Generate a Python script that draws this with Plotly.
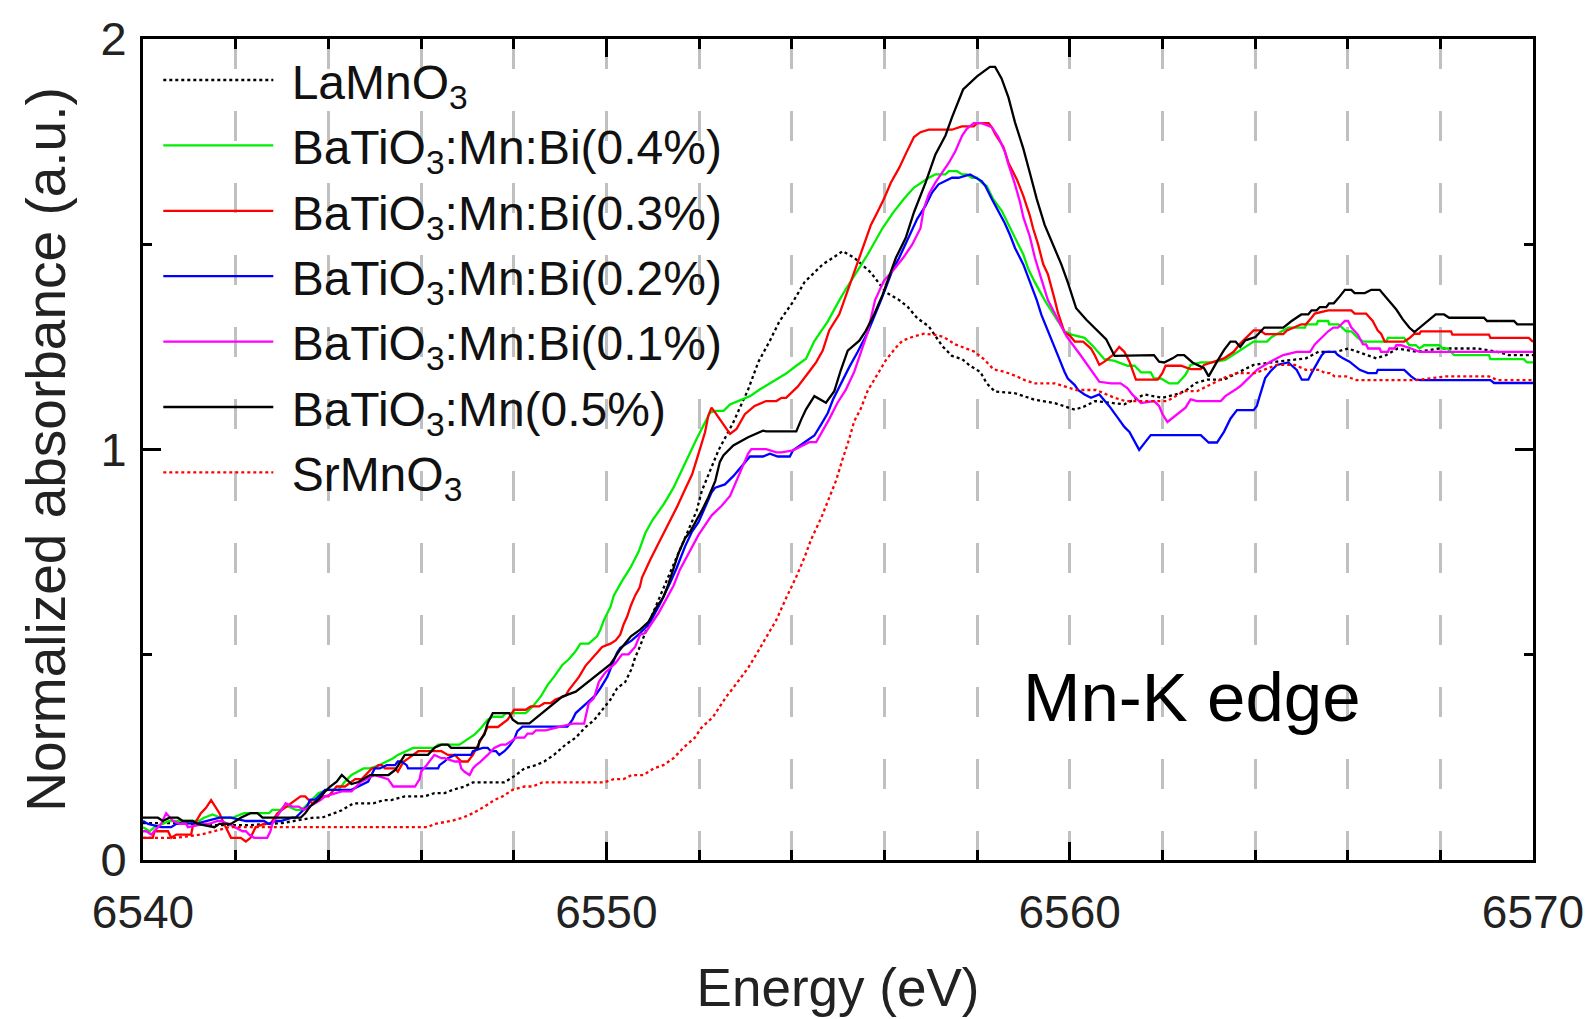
import plotly.graph_objects as go

# ---------------- data ----------------
la_x = [6540.0, 6540.7, 6541.5, 6542.3, 6543.0, 6543.25, 6543.68, 6543.86, 6544.11, 6544.29,
        6544.54, 6544.97, 6545.2, 6545.36, 6545.65, 6546.08, 6546.29, 6546.51, 6546.69, 6546.94,
        6547.12, 6547.8, 6548.05, 6548.23, 6548.48, 6548.66, 6548.87, 6549.12, 6549.34, 6549.55,
        6549.73, 6549.95, 6550.09, 6550.23, 6550.41, 6550.55, 6550.62, 6550.7, 6551.0, 6551.3,
        6551.6, 6551.95, 6552.06, 6552.35, 6552.42, 6552.74, 6553.06, 6553.28, 6553.53, 6553.74,
        6554.03, 6554.28, 6554.5, 6554.67, 6554.89, 6555.1, 6555.35, 6555.71, 6556.03, 6556.32,
        6556.5, 6556.71, 6556.96, 6557.25, 6557.46, 6557.68, 6557.85, 6558.07, 6558.21, 6558.39,
        6558.82, 6559.25, 6559.68, 6559.89, 6560.11, 6560.32, 6560.55, 6561.18, 6561.61, 6562.0,
        6562.29, 6562.5, 6562.72, 6562.97, 6563.33, 6563.75, 6563.97, 6564.47, 6565.1, 6565.37,
        6565.76, 6566.01, 6566.22, 6566.4, 6566.62, 6566.83, 6567.08, 6567.51, 6567.98, 6568.8,
        6569.23, 6569.48, 6570.0]
la_y = [0.09, 0.09, 0.085, 0.085, 0.09, 0.095, 0.103, 0.103, 0.114, 0.121,
        0.138, 0.138, 0.146, 0.146, 0.155, 0.155, 0.163, 0.163, 0.171, 0.179,
        0.189, 0.189, 0.207, 0.223, 0.231, 0.24, 0.256, 0.281, 0.298, 0.324,
        0.34, 0.37, 0.391, 0.418, 0.434, 0.467, 0.493, 0.513, 0.6, 0.68,
        0.76, 0.851, 0.899, 0.976, 0.998, 1.066, 1.146, 1.213, 1.265, 1.313,
        1.36, 1.408, 1.431, 1.451, 1.467, 1.483, 1.467, 1.431, 1.383, 1.364,
        1.348, 1.32, 1.3, 1.252, 1.228, 1.22, 1.204, 1.189, 1.161, 1.141,
        1.137, 1.121, 1.113, 1.105, 1.097, 1.105, 1.118, 1.11, 1.134, 1.126,
        1.134, 1.143, 1.162, 1.17, 1.17, 1.194, 1.206, 1.214, 1.222, 1.238,
        1.238, 1.246, 1.238, 1.23, 1.222, 1.23, 1.246, 1.238, 1.246, 1.246,
        1.238, 1.23, 1.23]

bi04_x = [6540.0, 6540.14, 6540.25, 6540.57, 6540.75, 6541.2, 6541.32, 6541.5, 6541.68, 6541.93,
          6542.18, 6542.72, 6542.79, 6542.97, 6543.04, 6543.15, 6543.3, 6543.4, 6543.5, 6543.65,
          6543.79, 6544.0, 6544.22, 6544.36, 6544.5, 6544.76, 6544.9, 6545.08, 6545.26, 6545.4,
          6545.5, 6545.69, 6545.83, 6546.29, 6546.37, 6546.83, 6546.94, 6547.05, 6547.16, 6547.3,
          6547.44, 6547.55, 6547.76, 6547.83, 6548.26, 6548.41, 6548.59, 6548.73, 6548.87, 6549.05,
          6549.19, 6549.34, 6549.44, 6549.62, 6549.8, 6549.87, 6549.95, 6550.09, 6550.16, 6550.34,
          6550.52, 6550.7, 6550.84, 6550.99, 6551.24, 6551.45, 6551.63, 6551.77, 6551.95, 6552.13,
          6552.24, 6552.35, 6552.53, 6552.67, 6552.85, 6553.1, 6553.31, 6553.67, 6553.88, 6554.1,
          6554.31, 6554.49, 6554.78, 6555.03, 6555.17, 6555.42, 6555.64, 6555.96, 6556.17, 6556.42,
          6556.64, 6556.96, 6557.1, 6557.32, 6557.39, 6557.57, 6557.68, 6557.78, 6557.89, 6558.0,
          6558.1, 6558.21, 6558.35, 6558.53, 6558.68, 6558.82, 6559.0, 6559.11, 6559.25, 6559.46,
          6559.61, 6559.75, 6559.89, 6560.04, 6560.32, 6560.5, 6560.75, 6560.97, 6561.25, 6561.4,
          6561.54, 6561.75, 6561.82, 6561.97, 6562.15, 6562.33, 6562.5, 6562.61, 6562.83, 6563.08,
          6563.36, 6563.47, 6563.58, 6563.86, 6563.97, 6564.26, 6564.36, 6564.61, 6564.72, 6565.08,
          6565.1, 6565.33, 6565.36, 6565.58, 6565.6, 6565.8, 6565.87, 6565.97, 6566.08, 6566.22,
          6566.33, 6566.83, 6566.87, 6567.22, 6567.33, 6567.47, 6567.55, 6567.65, 6567.98, 6568.05,
          6568.15, 6568.3, 6569.05, 6569.08, 6569.8, 6569.87, 6570.0]
bi04_y = [0.08, 0.07, 0.08, 0.095, 0.095, 0.095, 0.103, 0.111, 0.103, 0.103,
          0.114, 0.114, 0.122, 0.122, 0.13, 0.13, 0.122, 0.122, 0.13, 0.147,
          0.163, 0.171, 0.171, 0.191, 0.207, 0.223, 0.223, 0.23, 0.24, 0.248,
          0.256, 0.265, 0.273, 0.273, 0.281, 0.281, 0.289, 0.298, 0.306, 0.322,
          0.342, 0.349, 0.349, 0.358, 0.358, 0.374, 0.399, 0.426, 0.446, 0.475,
          0.489, 0.509, 0.527, 0.527, 0.545, 0.561, 0.585, 0.617, 0.644, 0.68,
          0.712, 0.752, 0.796, 0.827, 0.867, 0.907, 0.95, 0.986, 1.026, 1.066,
          1.09, 1.094, 1.094, 1.11, 1.118, 1.13, 1.146, 1.17, 1.185, 1.204,
          1.221, 1.264, 1.312, 1.364, 1.391, 1.435, 1.475, 1.539, 1.574, 1.61,
          1.638, 1.662, 1.67, 1.67, 1.678, 1.678, 1.67, 1.67, 1.662, 1.662,
          1.65, 1.642, 1.61, 1.582, 1.547, 1.515, 1.475, 1.439, 1.407, 1.364,
          1.336, 1.312, 1.288, 1.28, 1.272, 1.252, 1.22, 1.216, 1.204, 1.204,
          1.188, 1.188, 1.173, 1.173, 1.161, 1.161, 1.182, 1.206, 1.212, 1.212,
          1.218, 1.226, 1.234, 1.254, 1.263, 1.263, 1.274, 1.29, 1.297, 1.297,
          1.305, 1.305, 1.313, 1.313, 1.305, 1.305, 1.297, 1.288, 1.288, 1.272,
          1.263, 1.263, 1.272, 1.272, 1.254, 1.254, 1.246, 1.254, 1.254, 1.246,
          1.246, 1.23, 1.23, 1.22, 1.22, 1.212, 1.212]

bi03_x = [6540.0, 6540.21, 6540.25, 6540.54, 6540.61, 6540.72, 6541.04, 6541.07, 6541.25, 6541.36,
          6541.47, 6541.57, 6541.65, 6541.75, 6541.9, 6542.11, 6542.22, 6542.32, 6542.43, 6542.61,
          6542.75, 6542.9, 6543.2, 6543.4, 6543.5, 6543.65, 6543.9, 6544.0, 6544.18, 6544.36,
          6544.58, 6544.72, 6544.94, 6545.0, 6545.08, 6545.15, 6545.22, 6545.44, 6545.5, 6545.62,
          6545.72, 6545.94, 6546.22, 6546.44, 6546.58, 6546.73, 6546.87, 6547.01, 6547.12, 6547.28,
          6547.44, 6547.66, 6547.87, 6548.01, 6548.26, 6548.37, 6548.55, 6548.66, 6548.8, 6548.9,
          6549.12, 6549.19, 6549.41, 6549.55, 6549.73, 6549.91, 6550.09, 6550.2, 6550.3, 6550.37,
          6550.45, 6550.53, 6550.62, 6550.72, 6550.77, 6550.85, 6550.95, 6551.13, 6551.31, 6551.52,
          6551.7, 6551.85, 6551.99, 6552.13, 6552.2, 6552.27, 6552.35, 6552.53, 6552.67, 6552.81,
          6552.99, 6553.2, 6553.45, 6553.67, 6553.78, 6553.88, 6554.13, 6554.38, 6554.53, 6554.67,
          6554.81, 6555.03, 6555.28, 6555.42, 6555.57, 6555.71, 6555.85, 6555.99, 6556.14, 6556.32,
          6556.47, 6556.64, 6556.78, 6556.96, 6557.46, 6557.67, 6557.93, 6558.0, 6558.25, 6558.32,
          6558.39, 6558.57, 6558.68, 6558.86, 6559.0, 6559.14, 6559.21, 6559.32, 6559.43, 6559.53,
          6559.68, 6559.75, 6559.89, 6560.0, 6560.11, 6560.29, 6560.46, 6560.54, 6560.64, 6560.75,
          6560.93, 6561.07, 6561.18, 6561.29, 6561.43, 6561.9, 6562.0, 6562.07, 6562.4, 6562.61,
          6562.83, 6562.9, 6563.33, 6563.54, 6563.68, 6563.79, 6563.97, 6564.11, 6564.22, 6564.61,
          6564.69, 6565.0, 6565.1, 6565.22, 6565.29, 6565.58, 6566.08, 6566.15, 6566.4, 6566.54,
          6566.65, 6566.72, 6566.8, 6567.22, 6567.33, 6567.44, 6567.55, 6567.58, 6568.23, 6568.26,
          6569.05, 6569.08, 6569.91, 6570.0]
bi03_y = [0.054, 0.054, 0.07, 0.07, 0.054, 0.062, 0.062, 0.08, 0.114, 0.127,
          0.146, 0.127, 0.114, 0.088, 0.054, 0.054, 0.045, 0.054, 0.08, 0.088,
          0.088, 0.114, 0.139, 0.155, 0.155, 0.138, 0.155, 0.155, 0.179, 0.179,
          0.197, 0.197, 0.223, 0.223, 0.231, 0.231, 0.223, 0.223, 0.215, 0.239,
          0.247, 0.265, 0.265, 0.265, 0.256, 0.256, 0.24, 0.24, 0.256, 0.289,
          0.324, 0.324, 0.342, 0.366, 0.366, 0.374, 0.374, 0.382, 0.382, 0.391,
          0.4, 0.414, 0.446, 0.473, 0.497, 0.519, 0.527, 0.535, 0.549, 0.573,
          0.593, 0.62, 0.644, 0.664, 0.688, 0.708, 0.732, 0.772, 0.812, 0.859,
          0.903, 0.939, 0.99, 1.042, 1.082, 1.102, 1.09, 1.062, 1.038, 1.05,
          1.086, 1.106, 1.118, 1.118, 1.126, 1.126, 1.153, 1.19, 1.213, 1.241,
          1.29, 1.33, 1.41, 1.459, 1.503, 1.547, 1.578, 1.61, 1.65, 1.686,
          1.722, 1.761, 1.773, 1.779, 1.779, 1.787, 1.787, 1.795, 1.795, 1.785,
          1.769, 1.737, 1.698, 1.658, 1.618, 1.57, 1.539, 1.499, 1.451, 1.427,
          1.364, 1.332, 1.285, 1.278, 1.263, 1.263, 1.246, 1.23, 1.206, 1.214,
          1.23, 1.25, 1.238, 1.214, 1.17, 1.17, 1.186, 1.204, 1.204, 1.196,
          1.196, 1.206, 1.222, 1.238, 1.258, 1.27, 1.29, 1.29, 1.281, 1.281,
          1.29, 1.305, 1.305, 1.321, 1.331, 1.339, 1.339, 1.331, 1.331, 1.313,
          1.29, 1.282, 1.263, 1.263, 1.271, 1.282, 1.282, 1.288, 1.288, 1.28,
          1.28, 1.272, 1.272, 1.262]

bi02_x = [6540.0, 6540.11, 6540.39, 6540.61, 6540.72, 6541.2, 6541.65, 6541.9, 6542.22, 6542.61,
          6542.72, 6542.86, 6542.97, 6543.22, 6543.29, 6543.47, 6543.54, 6543.61, 6543.72, 6543.93,
          6544.0, 6544.36, 6544.5, 6544.86, 6545.0, 6545.11, 6545.26, 6545.44, 6545.5, 6545.58,
          6545.69, 6545.72, 6546.37, 6546.4, 6546.51, 6546.58, 6546.73, 6547.08, 6547.12, 6547.33,
          6547.44, 6547.51, 6547.62, 6547.69, 6547.8, 6547.91, 6548.01, 6548.08, 6548.19, 6549.16,
          6549.27, 6549.34, 6549.59, 6549.77, 6549.87, 6550.02, 6550.16, 6550.23, 6550.3, 6550.55,
          6550.73, 6550.84, 6550.95, 6551.09, 6551.16, 6551.38, 6551.52, 6551.7, 6551.85, 6551.99,
          6552.27, 6552.35, 6552.56, 6552.74, 6552.95, 6553.1, 6553.38, 6553.53, 6553.7, 6553.96,
          6554.03, 6554.24, 6554.49, 6554.64, 6554.78, 6554.89, 6555.1, 6555.24, 6555.42, 6555.64,
          6555.94, 6556.17, 6556.32, 6556.5, 6556.64, 6556.71, 6556.89, 6557.03, 6557.17, 6557.46,
          6557.6, 6557.85, 6558.1, 6558.18, 6558.32, 6558.46, 6558.6, 6558.71, 6558.82, 6559.0,
          6559.14, 6559.29, 6559.39, 6559.5, 6559.6, 6559.75, 6559.89, 6559.96, 6560.11, 6560.18,
          6560.32, 6560.46, 6560.64, 6560.86, 6561.04, 6561.18, 6561.29, 6561.43, 6561.5, 6561.61,
          6561.75, 6562.83, 6562.9, 6563.0, 6563.18, 6563.33, 6563.47, 6563.61, 6563.97, 6564.04,
          6564.08, 6564.15, 6564.22, 6564.33, 6564.47, 6564.72, 6564.9, 6565.01, 6565.15, 6565.22,
          6565.29, 6565.36, 6565.44, 6565.51, 6565.72, 6565.79, 6565.9, 6566.04, 6566.26, 6566.44,
          6566.62, 6566.65, 6567.22, 6567.37, 6567.47, 6567.58, 6569.08, 6569.16, 6570.0]
bi02_y = [0.095, 0.088, 0.08, 0.08, 0.088, 0.09, 0.103, 0.103, 0.095, 0.095,
          0.088, 0.095, 0.095, 0.103, 0.103, 0.122, 0.13, 0.147, 0.147, 0.171,
          0.171, 0.171, 0.171, 0.191, 0.223, 0.223, 0.231, 0.231, 0.24, 0.24,
          0.231, 0.223, 0.223, 0.231, 0.24, 0.248, 0.256, 0.256, 0.265, 0.273,
          0.273, 0.265, 0.265, 0.256, 0.265, 0.278, 0.294, 0.314, 0.325, 0.325,
          0.342, 0.358, 0.383, 0.402, 0.418, 0.446, 0.485, 0.505, 0.517, 0.535,
          0.553, 0.565, 0.58, 0.609, 0.624, 0.676, 0.712, 0.764, 0.8, 0.823,
          0.895, 0.907, 0.915, 0.935, 0.963, 0.983, 0.983, 0.99, 0.983, 0.983,
          0.998, 1.014, 1.034, 1.062, 1.089, 1.121, 1.17, 1.2, 1.237, 1.285,
          1.367, 1.435, 1.467, 1.511, 1.543, 1.562, 1.594, 1.626, 1.646, 1.662,
          1.662, 1.67, 1.654, 1.642, 1.61, 1.582, 1.551, 1.523, 1.491, 1.451,
          1.411, 1.364, 1.328, 1.296, 1.268, 1.228, 1.189, 1.173, 1.157, 1.145,
          1.134, 1.126, 1.134, 1.105, 1.077, 1.055, 1.043, 1.011, 0.999, 1.015,
          1.035, 1.035, 1.027, 1.017, 1.017, 1.043, 1.075, 1.096, 1.096, 1.106,
          1.122, 1.15, 1.174, 1.19, 1.206, 1.212, 1.194, 1.17, 1.17, 1.186,
          1.202, 1.214, 1.23, 1.238, 1.238, 1.23, 1.222, 1.214, 1.194, 1.186,
          1.186, 1.194, 1.194, 1.178, 1.17, 1.169, 1.169, 1.162, 1.162]

bi01_x = [6540.0, 6540.07, 6540.18, 6540.39, 6540.5, 6540.65, 6540.79, 6540.93, 6540.97, 6541.32,
          6541.43, 6541.61, 6541.68, 6541.9, 6542.15, 6542.22, 6542.29, 6542.4, 6542.68, 6542.75,
          6542.79, 6543.08, 6543.22, 6543.36, 6543.47, 6543.83, 6543.93, 6544.29, 6544.5, 6544.7,
          6545.0, 6545.2, 6545.29, 6545.4, 6545.87, 6545.97, 6546.0, 6546.12, 6546.22, 6546.29,
          6546.44, 6546.51, 6546.73, 6546.83, 6546.87, 6546.94, 6547.05, 6547.12, 6547.19, 6547.28,
          6547.44, 6547.58, 6547.73, 6547.83, 6547.94, 6548.05, 6548.23, 6548.3, 6548.41, 6548.48,
          6548.69, 6549.0, 6549.27, 6549.52, 6549.59, 6549.62, 6549.73, 6549.84, 6549.91, 6549.98,
          6550.2, 6550.34, 6550.48, 6550.62, 6550.73, 6550.84, 6551.13, 6551.3, 6551.45, 6551.59,
          6551.81, 6551.99, 6552.27, 6552.49, 6552.67, 6552.81, 6552.95, 6553.06, 6553.13, 6553.45,
          6553.67, 6553.78, 6554.03, 6554.38, 6554.53, 6554.67, 6554.81, 6554.99, 6555.17, 6555.35,
          6555.49, 6555.64, 6555.8, 6555.99, 6556.21, 6556.42, 6556.6, 6556.78, 6556.85, 6556.96,
          6557.1, 6557.39, 6557.53, 6557.68, 6557.78, 6557.93, 6558.1, 6558.32, 6558.46, 6558.6,
          6558.68, 6558.82, 6558.93, 6559.0, 6559.14, 6559.25, 6559.39, 6559.53, 6559.75, 6559.93,
          6560.22, 6560.5, 6560.64, 6560.89, 6561.1, 6561.25, 6561.36, 6561.54, 6561.75, 6561.82,
          6561.93, 6562.0, 6562.11, 6562.29, 6562.4, 6562.5, 6562.61, 6562.75, 6563.26, 6563.36,
          6563.58, 6563.68, 6563.79, 6563.9, 6564.04, 6564.33, 6564.47, 6564.61, 6564.9, 6565.19,
          6565.29, 6565.44, 6565.58, 6565.69, 6565.79, 6565.94, 6566.01, 6566.08, 6566.22, 6566.33,
          6566.4, 6566.44, 6566.69, 6566.72, 6566.87, 6566.9, 6567.01, 6567.05, 6567.15, 6567.37,
          6567.55, 6570.0]
bi01_y = [0.07, 0.07, 0.062, 0.088, 0.114, 0.095, 0.088, 0.088, 0.08, 0.088,
          0.088, 0.095, 0.095, 0.085, 0.07, 0.07, 0.062, 0.054, 0.054, 0.07,
          0.088, 0.138, 0.13, 0.13, 0.122, 0.146, 0.155, 0.167, 0.167, 0.19,
          0.207, 0.2, 0.197, 0.179, 0.179, 0.197, 0.215, 0.231, 0.247, 0.256,
          0.248, 0.248, 0.24, 0.24, 0.223, 0.215, 0.207, 0.223, 0.231, 0.239,
          0.256, 0.273, 0.281, 0.281, 0.289, 0.298, 0.298, 0.308, 0.308, 0.316,
          0.316, 0.325, 0.332, 0.332, 0.366, 0.382, 0.394, 0.434, 0.446, 0.457,
          0.48, 0.501, 0.501, 0.519, 0.549, 0.553, 0.602, 0.636, 0.668, 0.708,
          0.756, 0.792, 0.839, 0.863, 0.887, 0.923, 0.963, 0.99, 1.001, 1.001,
          0.993, 0.993, 0.998, 1.018, 1.018, 1.046, 1.074, 1.114, 1.146, 1.189,
          1.237, 1.285, 1.364, 1.411, 1.439, 1.469, 1.499, 1.539, 1.586, 1.622,
          1.65, 1.698, 1.726, 1.765, 1.781, 1.795, 1.795, 1.785, 1.761, 1.726,
          1.694, 1.646, 1.602, 1.566, 1.519, 1.467, 1.415, 1.364, 1.316, 1.276,
          1.232, 1.189, 1.165, 1.161, 1.161, 1.149, 1.133, 1.113, 1.118, 1.118,
          1.106, 1.087, 1.067, 1.083, 1.095, 1.102, 1.122, 1.118, 1.118, 1.13,
          1.146, 1.154, 1.166, 1.178, 1.194, 1.214, 1.222, 1.23, 1.238, 1.238,
          1.256, 1.272, 1.288, 1.297, 1.297, 1.313, 1.313, 1.297, 1.28, 1.256,
          1.256, 1.246, 1.246, 1.238, 1.238, 1.246, 1.246, 1.254, 1.254, 1.246,
          1.238, 1.238]

mn05_x = [6540.0, 6540.32, 6540.43, 6540.57, 6540.75, 6540.86, 6541.07, 6541.18, 6541.54, 6541.65,
          6541.9, 6542.11, 6542.32, 6542.47, 6542.58, 6543.4, 6543.5, 6543.61, 6543.79, 6543.93,
          6544.04, 6544.18, 6544.29, 6544.5, 6544.65, 6544.9, 6545.3, 6545.45, 6545.65, 6546.15,
          6546.3, 6546.44, 6546.58, 6546.65, 6547.23, 6547.26, 6547.37, 6547.44, 6547.55, 6547.9,
          6547.98, 6548.09, 6548.34, 6548.44, 6548.62, 6548.87, 6549.05, 6549.34, 6549.62, 6549.87,
          6550.09, 6550.3, 6550.53, 6550.73, 6550.91, 6551.09, 6551.23, 6551.34, 6551.45, 6551.56,
          6551.7, 6551.81, 6552.06, 6552.2, 6552.35, 6552.45, 6552.53, 6552.74, 6553.06, 6553.38,
          6553.45, 6554.1, 6554.21, 6554.31, 6554.49, 6554.74, 6554.92, 6555.06, 6555.21, 6555.46,
          6555.6, 6555.78, 6555.96, 6556.1, 6556.25, 6556.46, 6556.64, 6556.89, 6557.1, 6557.32,
          6557.46, 6557.7, 6558.0, 6558.28, 6558.39, 6558.53, 6558.68, 6558.82, 6559.0, 6559.14,
          6559.29, 6559.46, 6559.68, 6559.82, 6559.96, 6560.14, 6560.36, 6560.54, 6560.79, 6560.97,
          6561.82, 6561.93, 6562.04, 6562.22, 6562.33, 6562.47, 6562.65, 6562.9, 6563.0, 6563.18,
          6563.33, 6563.47, 6563.58, 6563.68, 6563.79, 6564.01, 6564.2, 6564.61, 6564.79, 6565.0,
          6565.15, 6565.22, 6565.33, 6565.4, 6565.54, 6565.6, 6565.7, 6565.83, 6565.94, 6566.08,
          6566.15, 6566.37, 6566.51, 6566.69, 6566.83, 6567.05, 6567.19, 6567.33, 6567.44, 6567.65,
          6567.8, 6567.9, 6568.08, 6568.19, 6568.94, 6569.01, 6569.59, 6569.66, 6570.0]
mn05_y = [0.103, 0.103, 0.095, 0.103, 0.103, 0.095, 0.095, 0.088, 0.08, 0.088,
          0.088, 0.103, 0.114, 0.114, 0.103, 0.103, 0.114, 0.131, 0.147, 0.167,
          0.179, 0.191, 0.207, 0.185, 0.19, 0.207, 0.207, 0.22, 0.256, 0.256,
          0.274, 0.281, 0.281, 0.273, 0.273, 0.29, 0.306, 0.334, 0.358, 0.358,
          0.342, 0.333, 0.333, 0.342, 0.358, 0.382, 0.398, 0.41, 0.435, 0.457,
          0.477, 0.513, 0.545, 0.561, 0.58, 0.617, 0.64, 0.672, 0.712, 0.748,
          0.784, 0.8, 0.851, 0.883, 0.923, 0.97, 0.986, 1.01, 1.03, 1.046,
          1.044, 1.044, 1.074, 1.098, 1.13, 1.114, 1.142, 1.193, 1.241, 1.265,
          1.289, 1.329, 1.376, 1.42, 1.467, 1.515, 1.578, 1.65, 1.718, 1.765,
          1.809, 1.877, 1.909, 1.932, 1.932, 1.904, 1.857, 1.797, 1.733, 1.674,
          1.61, 1.547, 1.491, 1.451, 1.407, 1.344, 1.316, 1.296, 1.268, 1.228,
          1.23, 1.214, 1.212, 1.222, 1.23, 1.23, 1.212, 1.198, 1.178, 1.214,
          1.242, 1.263, 1.263, 1.25, 1.266, 1.274, 1.297, 1.297, 1.313, 1.329,
          1.329, 1.339, 1.339, 1.347, 1.347, 1.356, 1.356, 1.373, 1.389, 1.389,
          1.381, 1.381, 1.389, 1.389, 1.371, 1.341, 1.317, 1.297, 1.286, 1.305,
          1.319, 1.329, 1.329, 1.321, 1.321, 1.313, 1.313, 1.305, 1.305]

sr_x = [6540.0, 6540.72, 6541.25, 6541.86, 6542.5, 6543.5, 6544.5, 6545.5, 6546.15, 6546.29,
        6546.65, 6546.9, 6547.12, 6547.37, 6547.58, 6547.76, 6547.98, 6548.23, 6548.41, 6548.62,
        6549.95, 6550.16, 6550.37, 6550.55, 6550.8, 6551.02, 6551.23, 6551.45, 6551.66, 6551.91,
        6552.05, 6552.3, 6552.45, 6552.59, 6552.73, 6552.88, 6553.06, 6553.2, 6553.46, 6553.67,
        6553.88, 6554.1, 6554.28, 6554.42, 6554.64, 6554.81, 6554.96, 6555.1, 6555.24, 6555.35,
        6555.49, 6555.64, 6555.89, 6556.03, 6556.24, 6556.39, 6556.6, 6556.85, 6557.07, 6557.28,
        6557.53, 6557.93, 6558.14, 6558.36, 6558.6, 6558.82, 6559.03, 6559.25, 6559.68, 6560.14,
        6560.57, 6560.97, 6561.2, 6561.9, 6562.1, 6562.47, 6562.75, 6563.18, 6563.4, 6563.61,
        6564.0, 6564.47, 6564.72, 6564.86, 6565.1, 6565.4, 6565.51, 6565.62, 6565.72, 6565.97,
        6566.19, 6567.47, 6568.12, 6569.05, 6569.23, 6570.0]
sr_y = [0.054, 0.054, 0.062, 0.08, 0.08, 0.08, 0.08, 0.08, 0.08, 0.088,
        0.095, 0.103, 0.114, 0.13, 0.146, 0.155, 0.171, 0.179, 0.179, 0.189,
        0.189, 0.197, 0.197, 0.207, 0.207, 0.223, 0.231, 0.248, 0.273, 0.298,
        0.322, 0.348, 0.374, 0.398, 0.418, 0.442, 0.468, 0.494, 0.546, 0.585,
        0.638, 0.69, 0.738, 0.781, 0.834, 0.882, 0.925, 0.977, 1.025, 1.069,
        1.099, 1.143, 1.191, 1.217, 1.247, 1.265, 1.274, 1.282, 1.28, 1.274,
        1.256, 1.239, 1.221, 1.195, 1.189, 1.18, 1.169, 1.161, 1.161, 1.145,
        1.145, 1.126, 1.118, 1.118, 1.118, 1.142, 1.142, 1.166, 1.178, 1.186,
        1.186, 1.206, 1.206, 1.206, 1.194, 1.194, 1.186, 1.186, 1.178, 1.178,
        1.169, 1.169, 1.178, 1.178, 1.169, 1.169]

series_names = ["LaMnO<sub>3</sub>",
                "BaTiO<sub>3</sub>:Mn:Bi(0.4%)",
                "BaTiO<sub>3</sub>:Mn:Bi(0.3%)",
                "BaTiO<sub>3</sub>:Mn:Bi(0.2%)",
                "BaTiO<sub>3</sub>:Mn:Bi(0.1%)",
                "BaTiO<sub>3</sub>:Mn(0.5%)",
                "SrMnO<sub>3</sub>"]
x_ticks = [6540, 6550, 6560, 6570]
y_ticks = [0, 1, 2]

# ---------------- figure ----------------
FONT = "Liberation Sans, Arial, Helvetica, sans-serif"
styles = [
    dict(color="black", dash="dot", width=2.3),
    dict(color="#00ee00", dash="solid", width=2.3),
    dict(color="#ff0000", dash="solid", width=2.3),
    dict(color="#0000ff", dash="solid", width=2.3),
    dict(color="#ff00ff", dash="solid", width=2.3),
    dict(color="black", dash="solid", width=2.3),
    dict(color="#ff0000", dash="dot", width=2.3),
]
data = [(la_x, la_y), (bi04_x, bi04_y), (bi03_x, bi03_y), (bi02_x, bi02_y),
        (bi01_x, bi01_y), (mn05_x, mn05_y), (sr_x, sr_y)]

fig = go.Figure()
for (xs, ys), name, st in zip(data, series_names, styles):
    assert len(xs) == len(ys), name
    fig.add_trace(go.Scatter(x=xs, y=ys, mode="lines", name="\u00a0" + name, line=st))

grid = dict(showgrid=True, gridcolor="#c0c0c0", gridwidth=2.5, griddash="30px,42px")

fig.update_layout(
    width=1596, height=1019,
    margin=dict(l=143, r=54, t=34, b=147),
    paper_bgcolor="white", plot_bgcolor="white",
    font=dict(family=FONT, color="#111111"),
    legend=dict(x=0.011, y=0.996, xanchor="left", yanchor="top",
                bgcolor="rgba(0,0,0,0)", borderwidth=0,
                font=dict(size=48, family=FONT, color="#111111"),
                itemwidth=110, tracegroupgap=0),
    xaxis=dict(range=[6540, 6570], tickvals=x_ticks, ticktext=[str(v) for v in x_ticks],
               ticks="inside", ticklen=18, tickwidth=3, tickcolor="black",
               showline=True, linewidth=3, linecolor="black", mirror="ticks",
               zeroline=False, **grid,
               minor=dict(dtick=2, tick0=6540, ticks="inside", ticklen=10, tickwidth=2.5,
                          tickcolor="black", **grid),
               tickfont=dict(size=46, family=FONT, color="#222222"),
               ticklabelstandoff=10,
               title=dict(text="Energy (eV)", font=dict(size=53, family=FONT, color="#222222"),
                          standoff=32)),
    yaxis=dict(range=[0, 2], tickvals=y_ticks, ticktext=[str(v) for v in y_ticks],
               ticks="inside", ticklen=18, tickwidth=3, tickcolor="black",
               showline=True, linewidth=3, linecolor="black", mirror="ticks",
               zeroline=False, showgrid=False,
               minor=dict(dtick=0.5, tick0=0, ticks="inside", ticklen=9, tickwidth=3,
                          tickcolor="black", showgrid=False),
               tickfont=dict(size=47, family=FONT, color="#222222"),
               ticklabelstandoff=4,
               title=dict(text="Normalized absorbance (a.u.)",
                          font=dict(size=55, family=FONT, color="#222222"), standoff=18)),
    annotations=[dict(x=6562.65, y=0.395, xref="x", yref="y", text="Mn-K edge",
                      showarrow=False, font=dict(size=69, family=FONT, color="black"),
                      xanchor="center", yanchor="middle")],
)

fig.write_html("out.html")
